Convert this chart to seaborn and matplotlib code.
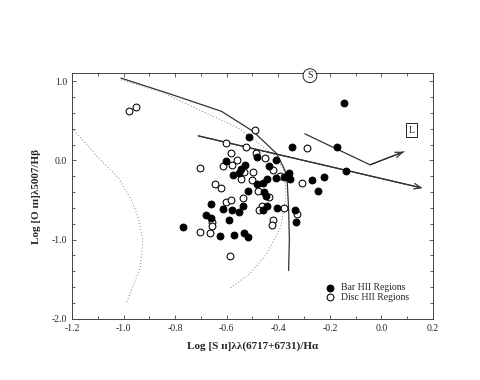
import matplotlib
matplotlib.use("Agg")
import matplotlib.pyplot as plt
from matplotlib.ticker import MultipleLocator
import seaborn as sns
import pandas as pd

# Bar HII regions (filled)
bar_x = [-0.145, -0.515, -0.481, -0.603, -0.528, -0.543, -0.552, -0.577, -0.516, -0.409,
         -0.348, -0.171, -0.138, -0.271, -0.224, -0.245, -0.357, -0.355, -0.377, -0.410,
         -0.437, -0.445, -0.461, -0.484, -0.454, -0.449, -0.660, -0.538, -0.613, -0.580,
         -0.554, -0.445, -0.458, -0.406, -0.682, -0.659, -0.590, -0.625, -0.572, -0.532,
         -0.518, -0.335, -0.333, -0.771]
bar_y = [0.73, 0.29, 0.04, -0.01, -0.055, -0.11, -0.155, -0.185, -0.38, 0.0,
         0.17, 0.17, -0.135, -0.25, -0.205, -0.38, -0.16, -0.23, -0.21, -0.22,
         -0.067, -0.24, -0.29, -0.30, -0.40, -0.45, -0.546, -0.57, -0.61, -0.62,
         -0.65, -0.57, -0.63, -0.605, -0.69, -0.725, -0.75, -0.955, -0.946, -0.91,
         -0.97, -0.63, -0.78, -0.836]

# Disc HII regions (open)
disc_x = [-0.978, -0.951, -0.489, -0.603, -0.585, -0.527, -0.487, -0.704, -0.561, -0.613,
          -0.578, -0.533, -0.497, -0.543, -0.644, -0.621, -0.503, -0.477, -0.437, -0.453,
          -0.288, -0.307, -0.422, -0.393, -0.603, -0.582, -0.536, -0.463, -0.476, -0.377,
          -0.657, -0.657, -0.704, -0.665, -0.419, -0.426, -0.329, -0.587]
disc_y = [0.62, 0.67, 0.38, 0.214, 0.10, 0.17, 0.10, -0.09, 0.0, -0.076,
          -0.054, -0.14, -0.14, -0.24, -0.30, -0.35, -0.25, -0.385, -0.46, 0.025,
          0.16, -0.29, -0.126, -0.20, -0.52, -0.50, -0.475, -0.57, -0.62, -0.605,
          -0.775, -0.83, -0.90, -0.915, -0.75, -0.82, -0.67, -1.21]

# model curves
upper_x = [-1.01, -0.82, -0.62, -0.497, -0.406, -0.374, -0.365, -0.360, -0.357, -0.360]
upper_y = [1.04, 0.84, 0.62, 0.366, 0.085, -0.126, -0.29, -0.60, -1.00, -1.39]
dot1_x = [-1.01, -0.85, -0.70, -0.55, -0.47, -0.41, -0.375, -0.37, -0.39, -0.445, -0.51, -0.59]
dot1_y = [1.02, 0.86, 0.63, 0.40, 0.20, 0.05, -0.15, -0.45, -0.84, -1.18, -1.43, -1.62]
dot2_x = [-1.2, -1.10, -1.02, -0.97, -0.945, -0.925, -0.935, -0.99]
dot2_y = [0.41, 0.04, -0.22, -0.50, -0.70, -1.0, -1.35, -1.81]
seq_x = [-0.71, 0.16]
seq_y = [0.31, -0.35]
lin_x = [-0.297, -0.044, 0.087]
lin_y = [0.336, -0.055, 0.11]

sns.set_style("ticks")
plt.rcParams['font.family'] = ['Liberation Serif', 'DejaVu Serif']

fig = plt.figure(figsize=(4.8, 3.8), dpi=100)
ax = fig.add_axes([0.15, 0.161, 0.752, 0.646])

ln = dict(sort=False, estimator=None, ax=ax, legend=False)
dots = (0, (1, 2.2))
sns.lineplot(x=upper_x, y=upper_y, color='#333333', lw=0.9, **ln)
sns.lineplot(x=dot1_x, y=dot1_y, color='#808080', lw=0.7, linestyle=dots, **ln)
sns.lineplot(x=dot2_x, y=dot2_y, color='#808080', lw=0.7, linestyle=dots, **ln)
sns.lineplot(x=seq_x[:-1] + [seq_x[-1] - 0.01], y=seq_y[:-1] + [seq_y[-1] + 0.0076],
             color='#333333', lw=0.9, **ln)
sns.lineplot(x=lin_x, y=lin_y, color='#333333', lw=0.9, **ln)
ax.annotate('', xy=(seq_x[-1], seq_y[-1]), xytext=(seq_x[-2], seq_y[-2]),
            arrowprops=dict(arrowstyle='->,head_length=0.5,head_width=0.2', color='#333333',
                            lw=0.9, shrinkA=0, shrinkB=0))
ax.annotate('', xy=(lin_x[-1], lin_y[-1]), xytext=(lin_x[-2], lin_y[-2]),
            arrowprops=dict(arrowstyle='->,head_length=0.5,head_width=0.2', color='#333333',
                            lw=0.9, shrinkA=0, shrinkB=0))

df_bar = pd.DataFrame({'x': bar_x, 'y': bar_y})
df_disc = pd.DataFrame({'x': disc_x, 'y': disc_y})
sns.scatterplot(data=df_disc, x='x', y='y', ax=ax, s=24, marker='o', facecolor='white',
                edgecolor='black', linewidth=0.75, label='Disc HII Regions', zorder=3)
sns.scatterplot(data=df_bar, x='x', y='y', ax=ax, s=24, marker='o', color='black',
                edgecolor='black', linewidth=0.75, label='Bar HII Regions', zorder=4)

ax.text(-0.277, 1.07, 'S', fontsize=7, ha='center', va='center',
        bbox=dict(boxstyle='circle,pad=0.25', fc='white', ec='black', lw=0.6))
ax.text(0.118, 0.38, 'L', fontsize=7, ha='center', va='center',
        bbox=dict(boxstyle='square,pad=0.25', fc='white', ec='black', lw=0.6))

ax.set_xlim(-1.2, 0.2)
ax.set_ylim(-2.0, 1.1)
ax.xaxis.set_major_locator(MultipleLocator(0.2))
ax.xaxis.set_minor_locator(MultipleLocator(0.1))
ax.yaxis.set_major_locator(MultipleLocator(1.0))
ax.yaxis.set_minor_locator(MultipleLocator(0.2))
ax.xaxis.set_major_formatter(plt.FuncFormatter(lambda v, p: f'{v:.1f}'))
ax.yaxis.set_major_formatter(plt.FuncFormatter(lambda v, p: f'{v:.1f}'))
ax.tick_params(which='both', direction='in', top=True, right=True, labelsize=7,
               width=0.6, color='#444444')
ax.tick_params(which='major', length=3)
ax.tick_params(which='minor', length=2)
for sp in ax.spines.values():
    sp.set_linewidth(0.7)
    sp.set_color('#444444')

ax.set_xlabel('Log [S ɪɪ]λλ(6717+6731)/Hα', fontsize=8, fontweight='bold', labelpad=6)
ax.set_ylabel('Log [O ɪɪɪ]λ5007/Hβ', fontsize=8, fontweight='bold', labelpad=8)

h, l = ax.get_legend_handles_labels()
ax.legend(h[::-1], l[::-1], loc='upper left', bbox_to_anchor=(0.69, 0.16), frameon=False,
          fontsize=7, handletextpad=0.7, labelspacing=0.05, borderaxespad=0, handlelength=1.0)

fig.savefig('out.png', dpi=100)
